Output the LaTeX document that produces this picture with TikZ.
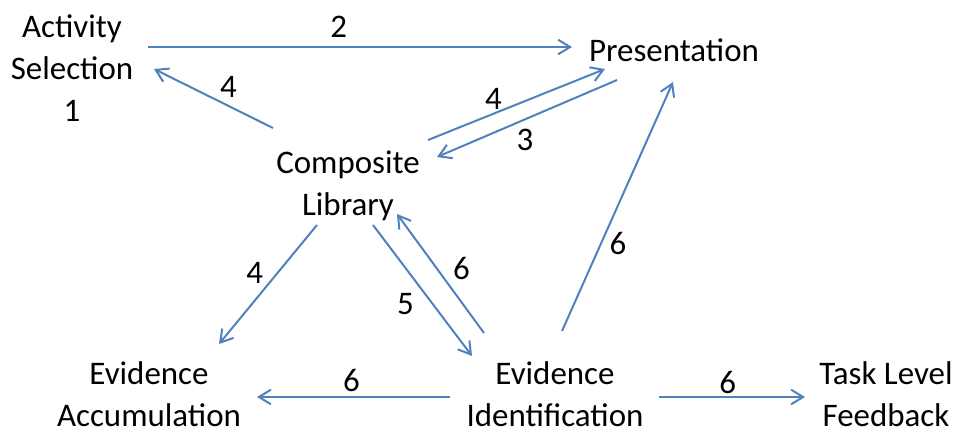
\documentclass[tikz,border=0pt]{standalone}
\usepackage{fontspec}
\setmainfont{Carlito}
\usepackage{tikz}
\usetikzlibrary{arrows.meta,calc}
\definecolor{flowblue}{HTML}{4F81BD}
\newcommand{\gunit}{0.75pt}
\newcommand{\lwidth}{1.5pt}

\begin{document}
\begin{tikzpicture}[x=\gunit,y=-\gunit]
	
	\tikzset{
		box/.style = {align=center, inner sep=0pt, font=\fontsize{24.7}{31.5}\selectfont},
		lbl/.style = {inner sep=0pt, font=\fontsize{24.7}{31.5}\selectfont},
		flow/.style = {draw=flowblue, line width=\lwidth, -{Straight Barb[length=9pt,width=11pt]}}
	}
	\useasboundingbox (0,0) rectangle (959,434);
	%\draw[help lines,step=50] (0,0) grid (959,434);
	
	\node[box] (act) at (72,68) {Activity\\Selection\\1};
	\node[box] (pres) at (674,50) {Presentation};
	\node[box] (comp) at (348,186) {Composite\\Library};
	\node[box] (acc) at (149,394) {Evidence\\Accumulation};
	\node[box] (eid) at (555,394) {Evidence\\Identification};
	\node[box] (tlf) at (886,394) {Task Level\\Feedback};
	
	\draw[flow] ($(act)+(76,-21)$) -- ($(pres)+(-102,-3)$)
		node[lbl,pos=.45,shift={(0,-20)}] (n2) {2};
	\draw[flow] ($(comp)+(-75,-58)$) -- ($(act)+(82,1)$)
		node[lbl,pos=.5,shift={(15,-12)}] (n4a) {4};
	\draw[flow] ($(comp)+(80,-46)$) -- ($(pres)+(-69,19)$)
		node[lbl,pos=.37,shift={(0,-15)}] (n4b) {4};
	\draw[flow] ($(pres)+(-57,30)$) -- ($(comp)+(89,-29)$)
		node[lbl,pos=.5,shift={(-2,21)}] (n3) {3};
	
	\draw[flow] ($(comp)+(-31,39)$) -- ($(acc)+(70,-50)$)
		node[lbl,pos=.4,shift={(-23,0)}] (n4c) {4};
	\draw[flow] ($(comp)+(25,39)$) -- ($(eid)+(-83,-38)$)
		node[lbl,pos=.6,shift={(-27,0)}] (n5) {5};
	\draw[flow] ($(eid)+(-71,-61)$) -- ($(comp)+(49,28)$)
		node[lbl,pos=.5,shift={(21,-5)}] (n6a) {6};
	\draw[flow] ($(eid)+(7,-63)$) -- ($(pres)+(-1,32)$)
		node[lbl,pos=.35,shift={(17,0)}] (n6b) {6};
	
	\draw[flow] ($(eid)+(-105,3)$) -- ($(acc)+(108,3)$)
		node[lbl,pos=.51,shift={(0,-17)}] (n6c) {6};
	\draw[flow] ($(eid)+(104,3)$) -- ($(tlf)+(-81,3)$)
		node[lbl,pos=.47,shift={(0,-15)}] (n6d) {6};
\end{tikzpicture}
\end{document}
